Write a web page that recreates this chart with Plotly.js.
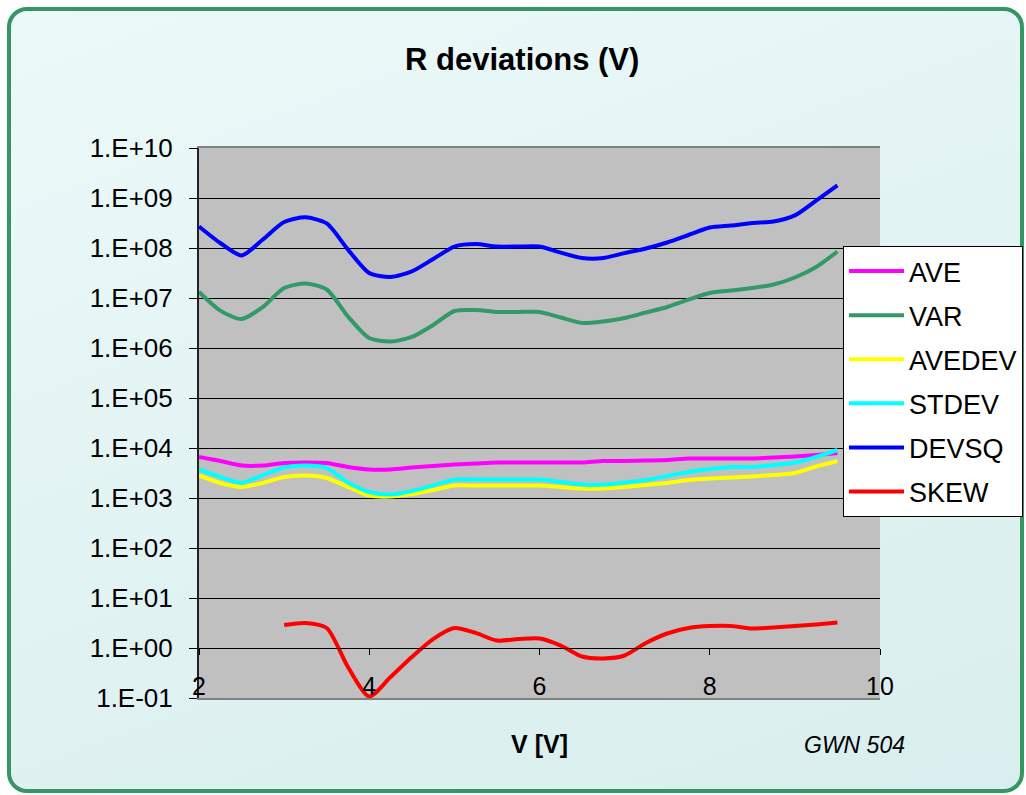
<!DOCTYPE html>
<html>
<head>
<meta charset="utf-8">
<script src="https://cdn.plot.ly/plotly-3.0.1.min.js"></script>
<style>
  html, body { margin: 0; padding: 0; background: #ffffff; }
  #wrap { position: relative; width: 1026px; height: 795px; overflow: hidden; }
  #frame {
    position: absolute; left: 7px; top: 7px; width: 1009px; height: 778px;
    border: 4px solid #339663; border-radius: 20px;
    background: linear-gradient(160deg, #ecf9f9 0%, #e2f3f3 50%, #d9eeee 100%);
  }
  #chart { position: absolute; left: 0; top: 0; width: 1026px; height: 795px; }
</style>
</head>
<body>
<div id="wrap">
  <div id="frame"></div>
  <div id="chart"></div>
</div>
<script>
// ---- data ----
const xV = [2.0,2.25,2.5,2.75,3.0,3.25,3.5,3.75,4.0,4.25,4.5,4.75,5.0,5.25,5.5,5.75,6.0,6.25,6.5,6.75,7.0,7.25,7.5,7.75,8.0,8.25,8.5,8.75,9.0,9.25,9.5];

const AVE    = [6610,5500,4470,4470,5010,5130,5010,4170,3720,3720,4070,4370,4680,4900,5130,5130,5130,5130,5130,5500,5500,5620,5750,6170,6170,6170,6170,6460,6760,7240,7940];
const VAR    = [1.32e7,5.6e6,3.8e6,6.6e6,1.58e7,1.95e7,1.48e7,4.27e6,1.58e6,1.35e6,1.66e6,2.88e6,5.5e6,5.75e6,5.25e6,5.25e6,5.25e6,4.07e6,3.16e6,3.39e6,3.98e6,5.13e6,6.6e6,9.3e6,1.26e7,1.41e7,1.58e7,1.86e7,2.57e7,4.17e7,8.5e7];
const AVEDEV = [2820,2000,1660,2000,2630,2820,2510,1660,1120,1070,1200,1450,1780,1780,1780,1780,1780,1660,1550,1550,1660,1820,2000,2290,2450,2570,2690,2880,3160,4270,5500];
const STDEV  = [3720,2630,2000,2880,4070,4470,3980,2040,1320,1170,1380,1780,2340,2340,2340,2340,2340,2090,1860,1860,2040,2290,2750,3310,3800,4170,4170,4570,5130,6610,9120];
const DEVSQ  = [2.7e8,1.26e8,7.1e7,1.48e8,3.3e8,4.1e8,3.1e8,9.3e7,3.16e7,2.63e7,3.4e7,6.0e7,1.07e8,1.2e8,1.07e8,1.07e8,1.07e8,8.1e7,6.3e7,6.3e7,7.9e7,9.8e7,1.29e8,1.82e8,2.57e8,2.82e8,3.16e8,3.4e8,4.5e8,8.9e8,1.78e9];
const SKEW   = [null,null,null,null,2.88,3.16,2.51,0.417,0.107,0.263,0.66,1.51,2.51,2.0,1.41,1.51,1.55,1.12,0.676,0.617,0.708,1.26,1.95,2.51,2.75,2.75,2.45,2.57,2.75,2.95,3.24];

const seriesNames  = ['AVE','VAR','AVEDEV','STDEV','DEVSQ','SKEW'];
const seriesValues = [AVE, VAR, AVEDEV, STDEV, DEVSQ, SKEW];
const seriesColors = ['#ff00ff','#339966','#ffff00','#00ffff','#0000ff','#ff0000'];

const yTickVals = [1e-1,1e0,1e1,1e2,1e3,1e4,1e5,1e6,1e7,1e8,1e9,1e10];
const yTickText = ['1.E-01','1.E+00','1.E+01','1.E+02','1.E+03','1.E+04','1.E+05','1.E+06','1.E+07','1.E+08','1.E+09','1.E+10'];
const xTickVals = [2,4,6,8,10];

const FONT = 'Liberation Sans, Arial, sans-serif';

const traces = seriesNames.map((n, i) => ({
  type: 'scatter', mode: 'lines', name: n,
  x: xV, y: seriesValues[i],
  legendgroup: n,
  connectgaps: false,
  line: { color: seriesColors[i], width: 4, shape: 'spline', smoothing: 0.7 },
  hoverinfo: 'x+y+name'
}));
// empty carrier so the x-axis crossing at 1.E+00 (with its tick marks) is drawn
traces.push({ type: 'scatter', mode: 'lines', x: [], y: [], xaxis: 'x2', yaxis: 'y', showlegend: false, hoverinfo: 'skip' });

const layout = {
  width: 1026, height: 795,
  paper_bgcolor: 'rgba(0,0,0,0)',
  plot_bgcolor: '#c0c0c0',
  margin: { l: 199, r: 146, t: 148, b: 97, pad: 0, autoexpand: false },
  title: {
    text: '<b>R deviations (V)</b>',
    font: { family: FONT, size: 31, color: '#000000' },
    xref: 'container', x: 0.509, xanchor: 'center',
    yref: 'container', y: 0.926, yanchor: 'middle'
  },
  xaxis: {
    range: [2, 10],
    tickmode: 'array', tickvals: xTickVals,
    ticks: '', showgrid: false, zeroline: false,
    showline: true, linecolor: '#808080', linewidth: 2, mirror: true,
    ticklabelposition: 'inside', ticklabeloverflow: 'allow',
    tickfont: { family: FONT, size: 25, color: '#000000' },
    title: { text: '<b>V [V]</b>', font: { family: FONT, size: 25, color: '#000000' }, standoff: 36 },
    automargin: false
  },
  xaxis2: {
    overlaying: 'x', anchor: 'free', position: 1/11,
    range: [2, 10], tickmode: 'array', tickvals: xTickVals,
    ticks: 'outside', ticklen: 6, tickwidth: 1, tickcolor: '#000000',
    showticklabels: false, showgrid: false, zeroline: false,
    showline: true, linecolor: '#000000', linewidth: 1
  },
  yaxis: {
    type: 'log', range: [-1, 10],
    tickmode: 'array', tickvals: yTickVals, ticktext: yTickText,
    ticks: 'outside', ticklen: 8, tickwidth: 1, tickcolor: '#000000',
    showgrid: true, gridcolor: '#000000', gridwidth: 1,
    showline: true, linecolor: '#222222', linewidth: 2,
    zeroline: false,
    ticklabelstandoff: 11,
    tickfont: { family: FONT, size: 26, color: '#000000' },
    automargin: false
  },
  legend: {
    xref: 'container', yref: 'container',
    x: 843 / 1026, xanchor: 'left', y: 1 - 246 / 795, yanchor: 'top',
    bgcolor: '#ffffff', bordercolor: '#000000', borderwidth: 1,
    font: { family: FONT, size: 27, color: '#000000' },
    traceorder: 'grouped', tracegroupgap: 6,
    itemwidth: 55
  },
  annotations: [{
    text: '<i>GWN 504</i>', xref: 'paper', yref: 'paper',
    x: (854 - 199) / 681, y: (697 - 744) / 550,
    xanchor: 'center', yanchor: 'middle', showarrow: false,
    font: { family: FONT, size: 23, color: '#000000' }
  }],
  showlegend: true
};

Plotly.newPlot('chart', traces, layout, { displayModeBar: false, staticPlot: true });
</script>
</body>
</html>
